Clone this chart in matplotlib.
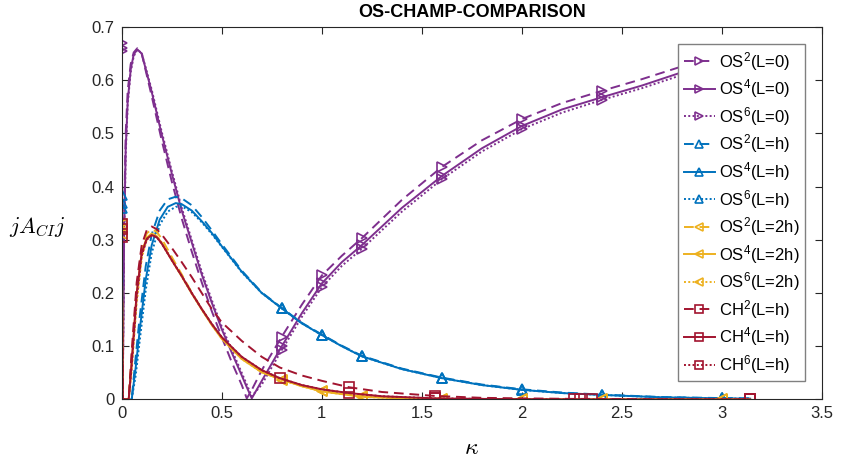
import matplotlib
matplotlib.use("Agg")
import matplotlib.pyplot as plt

plt.rcParams['font.family'] = ['Liberation Sans', 'DejaVu Sans']
plt.rcParams['mathtext.fontset'] = 'cm'

# ---------------- data ----------------
# OS, L = 0 (purple)
k_L0 = [0, 0.005, 0.012, 0.02, 0.03, 0.045, 0.06, 0.078, 0.1, 0.15, 0.2, 0.25, 0.3,
        0.35, 0.4, 0.45, 0.5, 0.55, 0.6, 0.625, 0.65, 0.7, 0.8, 0.9, 1.0, 1.1, 1.2,
        1.4, 1.6, 1.8, 2.0, 2.2, 2.4, 2.6, 2.8, 3.0, 3.14]
os2_L0 = [0.67, 0.0, 0.33, 0.50, 0.58, 0.63, 0.652, 0.66, 0.65, 0.57, 0.487, 0.41, 0.34,
          0.278, 0.22, 0.166, 0.117, 0.07, 0.027, 0.002, 0.018, 0.055, 0.118, 0.178, 0.233,
          0.27, 0.303, 0.375, 0.437, 0.487, 0.527, 0.557, 0.58, 0.602, 0.626, 0.64, 0.65]
os4_L0 = [0.66, 0.0, 0.30, 0.47, 0.56, 0.62, 0.648, 0.658, 0.65, 0.578, 0.498, 0.425, 0.355,
          0.295, 0.235, 0.182, 0.132, 0.088, 0.045, 0.023, 0.002, 0.035, 0.10, 0.162, 0.218,
          0.258, 0.29, 0.36, 0.42, 0.472, 0.514, 0.545, 0.568, 0.59, 0.615, 0.63, 0.64]
os6_L0 = [0.655, 0.0, 0.29, 0.46, 0.555, 0.615, 0.645, 0.657, 0.651, 0.582, 0.503, 0.43, 0.36,
          0.30, 0.24, 0.187, 0.137, 0.093, 0.05, 0.028, 0.006, 0.028, 0.093, 0.155, 0.211,
          0.251, 0.283, 0.353, 0.414, 0.466, 0.508, 0.539, 0.563, 0.585, 0.61, 0.625, 0.635]
mk_L0 = [0, 22, 24, 26, 28, 30, 32, 35]

# OS, L = h (blue)
k_Lh = [0, 0.006, 0.05, 0.07, 0.09, 0.12, 0.15, 0.19, 0.23, 0.27, 0.3, 0.35, 0.4, 0.45,
        0.5, 0.6, 0.7, 0.8, 0.9, 1.0, 1.1, 1.2, 1.4, 1.6, 1.8, 2.0, 2.2, 2.4, 2.7, 3.0, 3.14]
os2_Lh = [0.385, 0.0, 0.0, 0.08, 0.155, 0.25, 0.31, 0.355, 0.376, 0.381, 0.378, 0.365, 0.343,
          0.318, 0.292, 0.242, 0.201, 0.172, 0.144, 0.122, 0.101, 0.082, 0.058, 0.041, 0.028,
          0.019, 0.013, 0.009, 0.0045, 0.0025, 0.002]
os4_Lh = [0.37, 0.0, 0.0, 0.06, 0.13, 0.225, 0.29, 0.338, 0.362, 0.369, 0.367, 0.355, 0.335,
          0.313, 0.288, 0.24, 0.20, 0.171, 0.143, 0.121, 0.10, 0.081, 0.057, 0.04, 0.027,
          0.018, 0.012, 0.0085, 0.004, 0.002, 0.0015]
os6_Lh = [0.36, 0.0, 0.0, 0.045, 0.11, 0.205, 0.275, 0.328, 0.353, 0.362, 0.363, 0.352, 0.333,
          0.311, 0.287, 0.239, 0.20, 0.171, 0.143, 0.121, 0.10, 0.081, 0.057, 0.04, 0.027,
          0.018, 0.012, 0.0085, 0.004, 0.002, 0.0015]
mk_Lh = [0, 17, 19, 21, 23, 25, 27, 29]

# OS, L = 2h (yellow)
k_L2h = [0, 0.006, 0.035, 0.05, 0.075, 0.1, 0.125, 0.15, 0.175, 0.2, 0.25, 0.3, 0.35, 0.4,
         0.45, 0.5, 0.6, 0.7, 0.8, 0.9, 1.0, 1.2, 1.4, 1.6, 2.0, 2.4, 3.0, 3.14]
os2_L2h = [0.33, 0.0, 0.0, 0.08, 0.21, 0.283, 0.312, 0.32, 0.315, 0.302, 0.268, 0.235, 0.201,
           0.17, 0.141, 0.115, 0.077, 0.052, 0.037, 0.025, 0.016, 0.006, 0.002, 0.001, 0.0,
           0.0, 0.0, 0.0]
os4_L2h = [0.32, 0.0, 0.0, 0.07, 0.2, 0.276, 0.304, 0.312, 0.307, 0.294, 0.262, 0.231, 0.199,
           0.169, 0.14, 0.114, 0.076, 0.051, 0.037, 0.025, 0.015, 0.005, 0.002, 0.001, 0.0,
           0.0, 0.0, 0.0]
os6_L2h = [0.31, 0.0, 0.0, 0.055, 0.18, 0.265, 0.3, 0.31, 0.307, 0.295, 0.263, 0.232, 0.2,
           0.17, 0.141, 0.115, 0.076, 0.051, 0.037, 0.025, 0.015, 0.005, 0.002, 0.001, 0.0,
           0.0, 0.0, 0.0]
mk_L2h = [0, 18, 20, 21, 23, 24, 25, 26]

# CHAMP, L = h (red)
k_ch = [0, 0.006, 0.035, 0.05, 0.075, 0.1, 0.125, 0.15, 0.175, 0.2, 0.25, 0.3, 0.35, 0.4,
        0.45, 0.5, 0.6, 0.7, 0.79, 0.9, 1.0, 1.135, 1.3, 1.565, 1.8, 2.0, 2.26, 2.29, 2.35,
        2.6, 3.0, 3.14]
ch2 = [0.33, 0.0, 0.0, 0.09, 0.22, 0.29, 0.318, 0.325, 0.32, 0.31, 0.285, 0.258, 0.23, 0.2,
       0.17, 0.145, 0.11, 0.08, 0.06, 0.045, 0.035, 0.023, 0.014, 0.0066, 0.003, 0.002,
       0.001, 0.001, 0.001, 0.0005, 0.0, 0.0]
ch4 = [0.32, 0.0, 0.0, 0.07, 0.2, 0.275, 0.302, 0.309, 0.305, 0.293, 0.262, 0.232, 0.2, 0.17,
       0.142, 0.117, 0.08, 0.055, 0.04, 0.027, 0.019, 0.012, 0.006, 0.002, 0.001, 0.0005,
       0.0, 0.0, 0.0, 0.0, 0.0, 0.0]
ch6 = [0.305, 0.0, 0.0, 0.06, 0.19, 0.27, 0.3, 0.308, 0.305, 0.293, 0.262, 0.232, 0.2, 0.17,
       0.142, 0.117, 0.08, 0.055, 0.04, 0.027, 0.019, 0.012, 0.006, 0.002, 0.001, 0.0005,
       0.0, 0.0, 0.0, 0.0, 0.0, 0.0]
mk_ch2 = [0, 21, 23, 27, 31]
mk_ch4 = [0, 18, 21, 23, 26, 31]
mk_ch6 = [0, 23, 28, 31]

labels = ['OS$\\mathregular{^2}$(L=0)', 'OS$\\mathregular{^4}$(L=0)', 'OS$\\mathregular{^6}$(L=0)',
          'OS$\\mathregular{^2}$(L=h)', 'OS$\\mathregular{^4}$(L=h)', 'OS$\\mathregular{^6}$(L=h)',
          'OS$\\mathregular{^2}$(L=2h)', 'OS$\\mathregular{^4}$(L=2h)', 'OS$\\mathregular{^6}$(L=2h)',
          'CH$\\mathregular{^2}$(L=h)', 'CH$\\mathregular{^4}$(L=h)', 'CH$\\mathregular{^6}$(L=h)']

# ---------------- plotting ----------------
purple = '#7E2F8E'
blue = '#0072BD'
yellow = '#EDB120'
red = '#A2142F'

fig = plt.figure(figsize=(8.45, 4.65), dpi=100)
ax = fig.add_axes([0.144, 0.141, 0.829, 0.801])

dash = (0, (5, 3))
dot = (0, (1, 1.2))
series = [
    (k_L0, os2_L0, purple, dash, '>', mk_L0),
    (k_L0, os4_L0, purple, '-', '>', mk_L0),
    (k_L0, os6_L0, purple, dot, '>', mk_L0),
    (k_Lh, os2_Lh, blue, dash, '^', mk_Lh),
    (k_Lh, os4_Lh, blue, '-', '^', mk_Lh),
    (k_Lh, os6_Lh, blue, dot, '^', mk_Lh),
    (k_L2h, os2_L2h, yellow, dash, '<', mk_L2h),
    (k_L2h, os4_L2h, yellow, '-', '<', mk_L2h),
    (k_L2h, os6_L2h, yellow, dot, '<', mk_L2h),
    (k_ch, ch2, red, dash, 's', mk_ch2),
    (k_ch, ch4, red, '-', 's', mk_ch4),
    (k_ch, ch6, red, dot, 's', mk_ch6),
]
for (k, v, c, ls, m, mk), lab in zip(series, labels):
    ax.plot(k, v, color=c, linestyle=ls, linewidth=1.4, marker=m, markevery=mk,
            markersize=7, markerfacecolor='none', markeredgewidth=1.2, label=lab)

ax.set_xlim(0, 3.5)
ax.set_ylim(0, 0.7)
xt = [0, 0.5, 1, 1.5, 2, 2.5, 3, 3.5]
yt = [0, 0.1, 0.2, 0.3, 0.4, 0.5, 0.6, 0.7]
ax.set_xticks(xt)
ax.set_xticklabels(['0', '0.5', '1', '1.5', '2', '2.5', '3', '3.5'])
ax.set_yticks(yt)
ax.set_yticklabels(['0', '0.1', '0.2', '0.3', '0.4', '0.5', '0.6', '0.7'])
ax.tick_params(direction='in', length=5, width=0.8, top=True, right=True,
               labelsize=12, colors='#262626', pad=5)
for s in ax.spines.values():
    s.set_color('#262626')
    s.set_linewidth(0.8)

ax.set_title('OS-CHAMP-COMPARISON', fontsize=13, fontweight='bold', pad=7)
ax.set_xlabel('$\\kappa$', fontsize=17, labelpad=11)
ax.set_ylabel('$jA_{CI}j$', fontsize=16, rotation=0, labelpad=0)
ax.yaxis.set_label_coords(-0.12, 0.43)

leg = ax.legend(loc='upper right', fontsize=12, handlelength=1.85, handletextpad=0.25,
                labelspacing=0.28, borderpad=0.32, borderaxespad=1.05, fancybox=False,
                framealpha=1, edgecolor='#808080', numpoints=1)
leg.get_frame().set_linewidth(1.0)
for ln in leg.get_lines():
    ln.set_markevery([1])
    ln.set_markersize(6)

fig.savefig('out.png', dpi=100)
